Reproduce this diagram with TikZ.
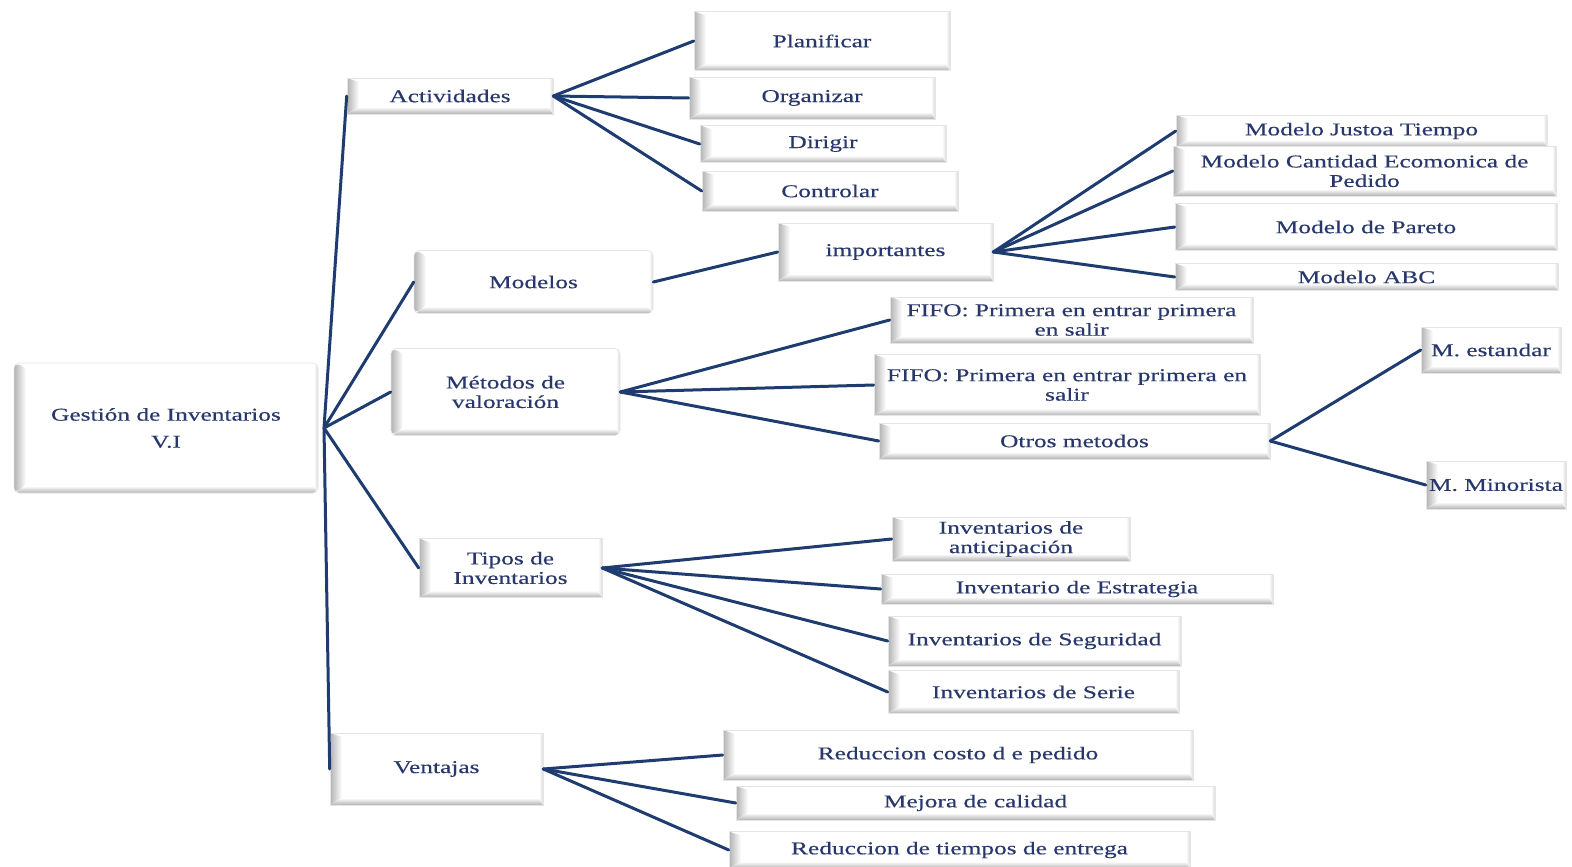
\documentclass[tikz,border=0pt]{standalone}
\usepackage{fontspec}
\setmainfont[FakeStretch=1.41,FakeBold=0.4]{Liberation Serif}
\definecolor{linkblue}{RGB}{30,60,112}
\definecolor{txtblue}{RGB}{40,56,108}
\tikzset{
  box/.style={draw=black!10, line width=0.6pt, fill=white, align=center,
    inner sep=0pt, text=txtblue, font=\fontsize{18}{19.5}\selectfont,
    path picture={
      \path (path picture bounding box.south west) coordinate (pSW)
            (path picture bounding box.north east) coordinate (pNE)
            (path picture bounding box.north west) coordinate (pNW)
            (path picture bounding box.south east) coordinate (pSE);
      % left bevel
      \fill[left color=black!30, right color=white]
        (pSW) -- (pNW) -- ([shift={(12pt,-4pt)}]pNW) -- ([shift={(12pt,7pt)}]pSW) -- cycle;
      % bottom bevel
      \fill[bottom color=black!30, top color=white]
        (pSW) -- ([shift={(12pt,7pt)}]pSW) -- ([shift={(-4pt,7pt)}]pSE) -- (pSE) -- cycle;
      % right bevel
      \fill[left color=white, right color=black!14]
        ([xshift=-4pt]pNE) -- (pNE) -- (pSE) -- ([shift={(-4pt,7pt)}]pSE) -- cycle;
    }},
  soft/.style={rounded corners=5pt},
  wide/.style={font=\fontsize{18}{27}\selectfont},
  link/.style={draw=linkblue, line width=3pt, line cap=round, line join=round}
}
\begin{document}
\begin{tikzpicture}[x=1pt,y=-1pt]
\useasboundingbox (0,0) rectangle (1572,867);

% root
\node[box,soft,wide,minimum width=304pt,minimum height=130pt] (root) at (166,428) {Gestión de Inventarios\\V.I};

% first level
\node[box,minimum width=206pt,minimum height=36pt] (act) at (450,96) {Actividades};
\node[box,soft,minimum width=239pt,minimum height=63pt] (mod) at (533.5,282) {Modelos};
\node[box,soft,minimum width=229pt,minimum height=87pt] (met) at (505.5,392) {Métodos de\\valoración};
\node[box,minimum width=183pt,minimum height=59pt] (tip) at (510.5,568) {Tipos de\\Inventarios};
\node[box,minimum width=213pt,minimum height=72pt] (ven) at (436.5,769) {Ventajas};
\coordinate (hub) at (324,428);

% Actividades
\node[box,minimum width=256pt,minimum height=59pt] (plan) at (822,41) {Planificar};
\node[box,minimum width=246pt,minimum height=42pt] (org) at (812,98) {Organizar};
\node[box,minimum width=246pt,minimum height=37pt] (dir) at (823,144) {Dirigir};
\node[box,minimum width=256pt,minimum height=40pt] (ctl) at (830,191) {Controlar};

% Modelos
\node[box,minimum width=215pt,minimum height=58pt] (imp) at (885.5,252) {importantes};
\node[box,minimum width=371pt,minimum height=32pt] (mjt) at (1361.5,131) {Modelo Justoa Tiempo};
\node[box,minimum width=383pt,minimum height=50pt] (mce) at (1364.5,171) {Modelo Cantidad Ecomonica de\\Pedido};
\node[box,minimum width=382pt,minimum height=47pt] (mpa) at (1366,227) {Modelo de Pareto};
\node[box,minimum width=383pt,minimum height=27pt] (mabc) at (1366.5,277) {Modelo ABC};

% Métodos de valoración
\node[box,minimum width=363pt,minimum height=46pt] (fa) at (1071.5,320) {FIFO: Primera en entrar primera\\en salir};
\node[box,minimum width=386pt,minimum height=61pt] (fb) at (1067,385) {FIFO: Primera en entrar primera en\\salir};
\node[box,minimum width=391pt,minimum height=36pt] (otr) at (1074.5,441) {Otros metodos};
\node[box,minimum width=140pt,minimum height=46pt] (mest) at (1491,350) {M. estandar};
\node[box,minimum width=140pt,minimum height=48pt] (mmin) at (1496,485) {M. Minorista};

% Tipos de Inventarios
\node[box,minimum width=238pt,minimum height=44pt] (ant) at (1011,539) {Inventarios de\\anticipación};
\node[box,minimum width=392pt,minimum height=30pt] (est) at (1077,589) {Inventario de Estrategia};
\node[box,minimum width=293pt,minimum height=50pt] (seg) at (1034.5,641) {Inventarios de Seguridad};
\node[box,minimum width=291pt,minimum height=43pt] (ser) at (1033.5,692) {Inventarios de Serie};

% Ventajas
\node[box,minimum width=470pt,minimum height=50pt] (rc) at (958,755) {Reduccion costo d e pedido};
\node[box,minimum width=479pt,minimum height=34pt] (mc) at (975.5,803) {Mejora de calidad};
\node[box,minimum width=461pt,minimum height=37pt] (rt) at (959.5,850) {Reduccion de tiempos de entrega};

% connectors
\draw[link] (act.west) -- (hub) -- (ven.west);
\draw[link] (hub) -- (mod.west);
\draw[link] (hub) -- (met.west);
\draw[link] (hub) -- (tip.west);

\foreach \t in {plan,org,dir,ctl} \draw[link] (act.east) -- (\t.west);
\draw[link] (mod.east) -- (imp.west);
\foreach \t in {mjt,mce,mpa,mabc} \draw[link] (imp.east) -- (\t.west);
\foreach \t in {fa,fb,otr} \draw[link] (met.east) -- (\t.west);
\foreach \t in {mest,mmin} \draw[link] (otr.east) -- (\t.west);
\foreach \t in {ant,est,seg,ser} \draw[link] (tip.east) -- (\t.west);
\foreach \t in {rc,mc,rt} \draw[link] (ven.east) -- (\t.west);
\end{tikzpicture}
\end{document}
